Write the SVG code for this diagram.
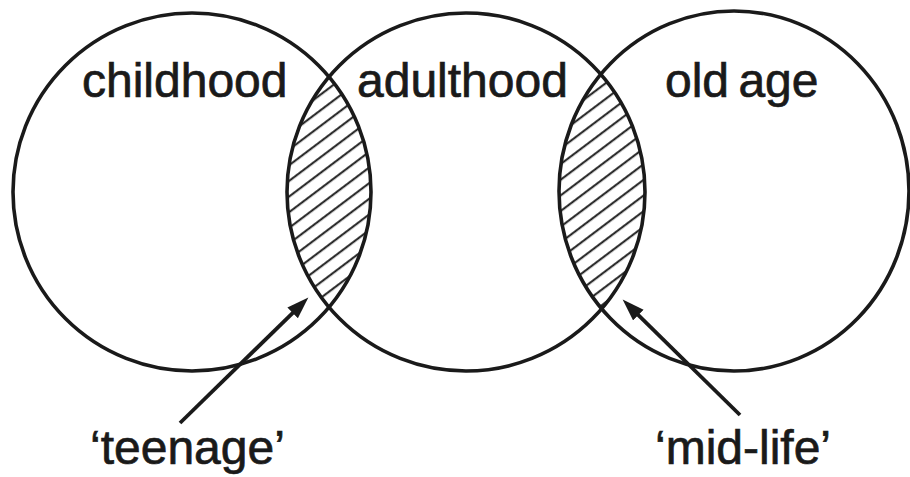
<svg xmlns="http://www.w3.org/2000/svg" width="910" height="477" viewBox="0 0 910 477">
  <style>
    .ring { fill: none; stroke: #1a1a1a; stroke-width: 3.6; }
    .lbl { font-family: "Liberation Sans", Arial, sans-serif; font-size: 48px; fill: #1a1a1a; stroke: #1a1a1a; stroke-width: 0.7; }
    .arrow { stroke: #1a1a1a; stroke-width: 3.8; fill: none; marker-end: url(#head); }
  </style>
  <defs>
    <pattern id="hatch" patternUnits="userSpaceOnUse" width="12" height="12.5" patternTransform="rotate(-37)">
      <line x1="0" y1="6" x2="12" y2="6" stroke="#1a1a1a" stroke-width="2"/>
    </pattern>
    <clipPath id="cL"><circle cx="192" cy="192" r="179"/></clipPath>
    <clipPath id="cM"><circle cx="466" cy="192" r="179"/></clipPath>
    <clipPath id="cR"><ellipse cx="734" cy="191" rx="175" ry="180"/></clipPath>
    <marker id="head" markerUnits="userSpaceOnUse" markerWidth="24" markerHeight="16" refX="11" refY="7.5" orient="auto">
      <path d="M0,0 L22,7.5 L0,15 Z" fill="#1a1a1a"/>
    </marker>
  </defs>
  <rect width="910" height="477" fill="#ffffff"/>

  <g id="lens-teenage" clip-path="url(#cL)">
    <rect x="250" y="50" width="160" height="290" fill="url(#hatch)" clip-path="url(#cM)"/>
  </g>
  <g id="lens-midlife" clip-path="url(#cM)">
    <rect x="520" y="50" width="160" height="290" fill="url(#hatch)" clip-path="url(#cR)"/>
  </g>

  <g id="childhood">
    <circle class="ring" cx="192" cy="192" r="179"/>
    <text class="lbl" x="82" y="97">childhood</text>
  </g>
  <g id="adulthood">
    <circle class="ring" cx="466" cy="192" r="179"/>
    <text class="lbl" x="357" y="97">adulthood</text>
  </g>
  <g id="oldage">
    <ellipse class="ring" cx="734" cy="191" rx="175" ry="180"/>
    <text class="lbl" x="665" y="97" word-spacing="-4">old age</text>
  </g>

  <g id="connectors">
    <line class="arrow" x1="180" y1="423" x2="300.5" y2="305.3"/>
    <line class="arrow" x1="740" y1="415" x2="630.5" y2="307.3"/>
  </g>

  <g id="teenage">
    <text class="lbl" x="90" y="464">‘teenage’</text>
  </g>
  <g id="midlife">
    <text class="lbl" x="655" y="464">‘mid-life’</text>
  </g>
</svg>
